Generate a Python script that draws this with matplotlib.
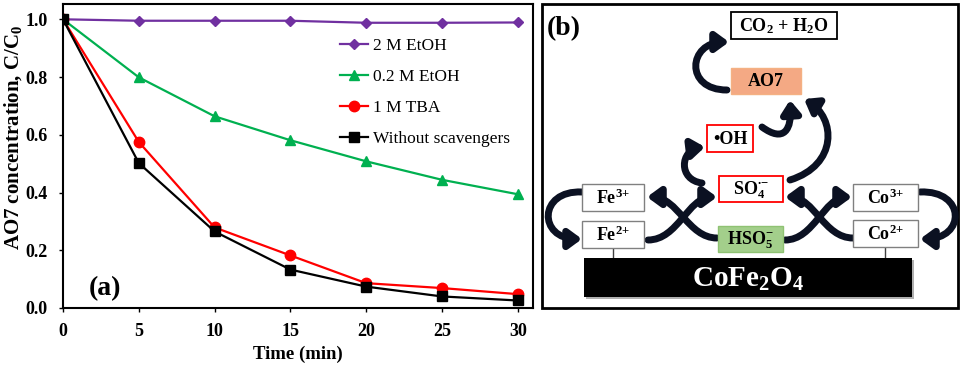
import numpy as np
import matplotlib.pyplot as plt
from matplotlib.patches import Rectangle, FancyArrowPatch
from matplotlib.path import Path
from matplotlib.ticker import FormatStrFormatter

plt.rcParams['font.family'] = ['Liberation Serif', 'DejaVu Serif']
plt.rcParams['mathtext.fontset'] = 'custom'
plt.rcParams['mathtext.rm'] = 'Liberation Serif:bold'
plt.rcParams['mathtext.it'] = 'Liberation Serif:bold'
plt.rcParams['mathtext.bf'] = 'Liberation Serif:bold'

# ---- data, panel (a)
time = [0, 5, 10, 15, 20, 25, 30]
etoh_2m = [1.0, 0.995, 0.995, 0.995, 0.988, 0.988, 0.989]
etoh_02m = [1.0, 0.799, 0.664, 0.581, 0.508, 0.444, 0.394]
tba_1m = [1.0, 0.575, 0.279, 0.182, 0.086, 0.069, 0.048]
no_scav = [1.0, 0.502, 0.265, 0.133, 0.074, 0.040, 0.026]
labels = ['2 M EtOH', '0.2 M EtOH', '1 M TBA', 'Without scavengers']
colors = ['#7030A0', '#00B050', '#FF0000', '#000000']
markers = ['D', '^', 'o', 's']
msizes = [5, 7, 7.5, 7]

fig = plt.figure(figsize=(9.66, 3.66), dpi=100)

# ================= panel (a)
ax = fig.add_axes([63/966, 58/366, 470/966, 304/366])
series = [etoh_2m, etoh_02m, tba_1m, no_scav]
for ys, lab, c, m, s in zip(series, labels, colors, markers, msizes):
    ax.plot(time, ys, color=c, marker=m, ms=s, lw=1.6, label=lab)

ax.set_xlim(0, 31)
ax.set_ylim(0, 1.053)
ax.set_xticks(range(0, 31, 5))
ax.set_yticks(np.arange(0, 1.01, 0.2))
ax.yaxis.set_major_formatter(FormatStrFormatter('%.1f'))
ax.tick_params(direction='out', length=3, width=1, labelsize=13, pad=8)
for lab in ax.get_xticklabels() + ax.get_yticklabels():
    lab.set_fontweight('bold')
for sp in ax.spines.values():
    sp.set_linewidth(1.5)

ax.set_xlabel('Time (min)', fontsize=13.5, fontweight='bold', labelpad=4)
ax.set_ylabel('AO7 concentration, C/C$_\\mathrm{0}$', fontsize=15, fontweight='bold')
ax.yaxis.set_label_coords(-0.084, 0.56)

ax.legend(loc='upper left', bbox_to_anchor=(0.589, 0.888), frameon=False,
          fontsize=12.5, handlelength=1.6, handletextpad=0.3, labelspacing=0.86,
          borderpad=0, borderaxespad=0)
ax.text(0.055, 0.065, '(a)', transform=ax.transAxes, fontsize=20,
        fontweight='bold', va='center')

# ================= panel (b) - scheme, drawn in pixel coordinates
bx = fig.add_axes([540/966, 0, 426/966, 1])
bx.set_xlim(540, 966)
bx.set_ylim(366, 0)
bx.axis('off')

bx.add_patch(Rectangle((542, 4), 416, 304, fill=False, ec='black', lw=2))
bx.text(547, 29, '(b)', fontsize=20, fontweight='bold', va='center')

arrow_col = '#0b1122'


def box(x0, y0, x1, y1, txt, fc='white', ec='#808080', lw=1.0, size=13):
    bx.add_patch(Rectangle((x0, y0), x1 - x0, y1 - y0, fc=fc, ec=ec, lw=lw, zorder=3))
    bx.text((x0 + x1) / 2, (y0 + y1) / 2 + 1, txt, ha='center', va='center',
            fontsize=size, fontweight='bold', zorder=4)


def arrow(p0, p1, p2, p3):
    path = Path([p0, p1, p2, p3], [Path.MOVETO, Path.CURVE4, Path.CURVE4, Path.CURVE4])
    bx.add_patch(FancyArrowPatch(path=path, arrowstyle='-|>,head_length=0.75,head_width=0.55',
                                 mutation_scale=10, lw=5, color=arrow_col, zorder=2))


box(731, 12, 837, 39, 'CO$_\\mathrm{2}$ + H$_\\mathrm{2}$O', ec='black', lw=1.3)
box(731, 68, 801, 94, 'AO7', fc='#F4A984', ec='#F4B183')
box(707, 125, 753, 152, '\u2022OH', ec='#FF0000', lw=1.3)
box(719, 176, 783, 202, 'SO$_\\mathrm{4}^{\\bullet{-}}$', ec='#FF0000', lw=1.3)
box(718, 226, 783, 252, 'HSO$_\\mathrm{5}^{{-}}$', fc='#A3CF8B', ec='#8FC273')
box(582, 184, 644, 211, 'Fe$^\\mathrm{3{+}}$')
box(582, 221, 644, 248, 'Fe$^\\mathrm{2{+}}$')
box(853, 184, 918, 211, 'Co$^\\mathrm{3{+}}$')
box(853, 220, 918, 247, 'Co$^\\mathrm{2{+}}$')

# catalyst bar
bx.add_patch(Rectangle((586, 260), 328, 39, fc='#b0b0b0', ec='none', zorder=1))
bx.add_patch(Rectangle((584, 258), 328, 39, fc='black', ec='none', zorder=3))
bx.text(748, 279, 'CoFe$_\\mathrm{2}$O$_\\mathrm{4}$', color='white', fontsize=21,
        fontweight='bold', ha='center', va='center', zorder=4)
bx.plot([613, 613], [248, 258], color='#404040', lw=1, zorder=2)
bx.plot([885, 885], [247, 258], color='#404040', lw=1, zorder=2)

# curved arrows
arrow((727, 90), (684, 90), (688, 42), (729, 42))      # AO7 -> CO2 + H2O
arrow((762, 127), (784, 143), (792, 130), (790, 100))  # OH -> AO7
arrow((790, 180), (838, 165), (836, 118), (804, 99))   # SO4 -> AO7
arrow((702, 183), (678, 180), (680, 150), (705, 147))  # SO4 -> OH
arrow((582, 192), (538, 190), (538, 239), (582, 239))  # Fe3+ -> Fe2+
arrow((920, 192), (966, 190), (966, 239), (920, 239))  # Co3+ -> Co2+
arrow((648, 240), (678, 240), (688, 197), (717, 197))  # Fe2+ -> SO4
arrow((717, 238), (688, 238), (678, 197), (647, 197))  # HSO5 -> Fe3+
arrow((785, 240), (814, 240), (824, 197), (852, 197))  # HSO5 -> Co3+
arrow((853, 238), (824, 238), (814, 197), (785, 197))  # Co2+ -> SO4

fig.savefig('out.png', dpi=100)
